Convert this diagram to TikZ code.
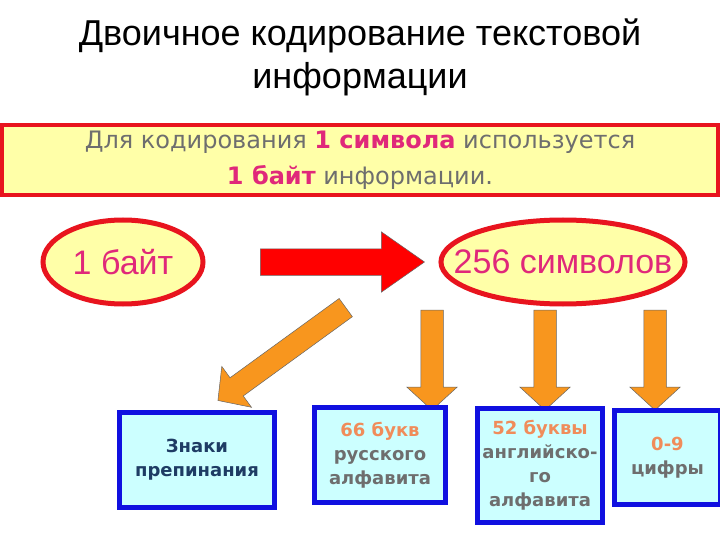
\documentclass[tikz,border=0pt]{standalone}
\usepackage{fontspec}
\setmainfont{Liberation Sans}
\newfontfamily\vfont{DejaVu Sans}
\usetikzlibrary{shapes.arrows,shapes.geometric}
\definecolor{ly}{HTML}{FFFFA8}
\definecolor{rd}{HTML}{E8141E}
\definecolor{pk}{HTML}{E0287A}
\definecolor{gr}{HTML}{6E6E6E}
\definecolor{bl}{HTML}{1010E0}
\definecolor{cy}{HTML}{CCFFFF}
\definecolor{or}{HTML}{F8961E}
\definecolor{sal}{HTML}{F08C5A}
\definecolor{db}{HTML}{1E3C64}
\tikzset{
 oval/.style={ellipse,draw=rd,line width=5pt,fill=ly,text=pk,font=\fontsize{34}{38}\selectfont,inner sep=0pt},
 bbox/.style={draw=bl,line width=5pt,fill=cy,anchor=north west,font=\vfont\bfseries\fontsize{18}{24}\selectfont,align=center,text=gr},
 oarrow/.style={single arrow,draw=black!60,line width=0.5pt,fill=or,inner xsep=0pt,inner ysep=11pt,minimum width=50pt,single arrow head extend=14pt,single arrow tip angle=95},
}
\begin{document}
\begin{tikzpicture}[x=1pt,y=-1pt]
\useasboundingbox (0,0) rectangle (720,540);
\fill[white] (0,0) rectangle (720,540);
\node[font=\fontsize{36}{43}\selectfont,align=center,text=black] (title) at (360,57) {Двоичное кодирование текстовой\\информации};
\node[draw=rd,line width=4pt,fill=ly,minimum width=716pt,minimum height=70pt,font=\vfont\fontsize{24}{36}\selectfont,align=center,text=gr] (rule) at (360,160)
 {Для кодирования \textcolor{pk}{\bfseries 1 символа} используется\\\textcolor{pk}{\bfseries 1 байт} информации.};
\node[oval,minimum width=160pt,minimum height=84pt] (byte) at (123,262) {1 байт};
\node[oval,inner xsep=-23pt,minimum width=240pt,minimum height=84pt] (sym) at (563,262) {256 символов};
\node[single arrow,draw=black!60,line width=0.5pt,fill=red,inner xsep=0pt,inner ysep=13pt,minimum width=60pt,minimum height=164pt,single arrow head extend=17pt,single arrow tip angle=70] (ra) at (333,262) {};
\node[oarrow,minimum height=158pt,rotate=216] (ad) at (286,351) {};
\node[oarrow,minimum height=100pt,rotate=270] (a1) at (432,355) {};
\node[oarrow,minimum height=100pt,rotate=270] (a2) at (545,355) {};
\node[oarrow,minimum height=100pt,rotate=270] (a3) at (655,355) {};
\node[bbox,minimum width=155pt,minimum height=95pt,text=db] (b1) at (117,410) {Знаки\\препинания};
\node[bbox,minimum width=131pt,minimum height=95pt] (b2) at (312,405) {\textcolor{sal}{66 букв}\\русского\\алфавита};
\node[bbox,minimum width=125pt,minimum height=114pt] (b3) at (475,406) {\textcolor{sal}{52 буквы}\\английско-\\го\\алфавита};
\node[bbox,minimum width=106pt,minimum height=94pt] (b4) at (612,408) {\textcolor{sal}{0-9}\\цифры};
\end{tikzpicture}
\end{document}
